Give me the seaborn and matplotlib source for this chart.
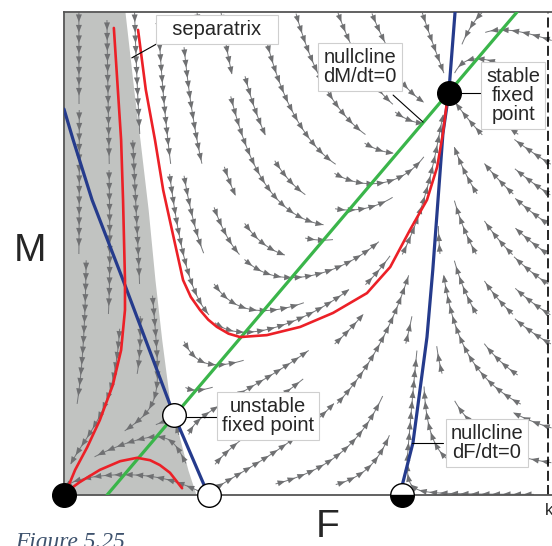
import numpy as np
import matplotlib.pyplot as plt
import seaborn as sns
from matplotlib.collections import LineCollection, PolyCollection

# values (F horizontal, M vertical, K = 10)
fixed_stable_F = [0.0, 7.95]
fixed_stable_M = [0.0, 8.32]
fixed_unstable_F = [3.0, 2.27]
fixed_unstable_M = [0.0, 1.66]
fixed_half_F = [6.98]
fixed_half_M = [0.0]
K = 10.0

# nullcline dM/dt = 0 (straight line)
green_F = [0.89, 9.36]
green_M = [0.0, 10.0]

# nullcline dF/dt = 0, two branches
blue_left_F = [0.0, 0.19, 0.58, 1.22, 2.27, 2.91, 3.0]
blue_left_M = [7.99, 7.35, 6.11, 4.45, 1.66, 0.17, 0.0]
blue_right_F = [6.98, 7.0, 7.21, 7.5, 7.62, 7.83, 7.95, 8.08]
blue_right_M = [0.0, 0.25, 1.08, 3.27, 4.66, 7.49, 8.32, 10.0]

# red trajectories
red1_F = [1.03, 1.18, 1.22, 1.26, 1.26, 1.18, 1.01, 0.74, 0.48, 0.23, 0.04, 0.0]
red1_M = [9.67, 7.35, 6.11, 4.45, 3.83, 3.0, 2.28, 1.55, 0.99, 0.52, 0.06, 0.0]
red2_F = [1.53, 1.69, 1.88, 2.05, 2.23, 2.46, 2.62, 2.81, 2.98, 3.16, 3.40, 3.64,
          4.19, 4.88, 5.56, 6.26, 6.74, 7.15, 7.50, 7.71, 7.83, 7.91, 7.95]
red2_M = [9.63, 8.39, 7.35, 6.31, 5.49, 4.45, 4.10, 3.83, 3.63, 3.48, 3.34, 3.27,
          3.31, 3.48, 3.77, 4.18, 4.72, 5.49, 6.11, 6.79, 7.49, 8.12, 8.32]
red3_F = [0.0, 0.04, 0.33, 0.74, 1.16, 1.51, 1.78, 1.98, 2.19, 2.44]
red3_M = [0.0, 0.06, 0.27, 0.52, 0.70, 0.77, 0.72, 0.62, 0.46, 0.14]

# shaded basin of the OFF state (left of the separatrix)
sep_F = [1.26, 1.45, 1.57, 1.74, 1.88, 2.02, 2.19, 2.27, 2.40, 2.56, 2.73]
sep_M = [10.0, 8.32, 7.35, 5.90, 4.45, 3.21, 1.90, 1.66, 1.14, 0.52, 0.0]

sns.set_style("white")
plt.rcParams['font.family'] = ['Liberation Sans', 'DejaVu Sans']

XMAX, YMAX = 10.083, 10.0
SX, SY = 48.4, 48.3  # pixels per data unit
W, H = XMAX * SX, YMAX * SY

bl_M = np.array(blue_left_M[::-1])
bl_F = np.array(blue_left_F[::-1])
slope = (green_M[1] - green_M[0]) / (green_F[1] - green_F[0])


def velocity(F, M):
    # field built from the nullclines: dF/dt = 0 on blue, dM/dt = 0 on green
    F1 = np.interp(M, bl_M, bl_F)
    F2 = np.interp(M, blue_right_M, blue_right_F)
    G = green_M[0] + slope * (F - green_F[0])
    return 0.1 * F * (F - F1) * (F2 - F), 0.5 * M * (G - M)


def pix_dir(x, y):
    u, v = velocity(x / SX, y / SY)
    u, v = u * SX, v * SY
    s = np.hypot(u, v)
    if s < 1e-9:
        return None
    return u / s, v / s


# streamslice-like tracing in pixel space
CELL, STEP, LMAX = 30.0, 2.0, 130.0
nx, ny = int(np.ceil(W / CELL)), int(np.ceil(H / CELL))
occ = np.zeros((nx, ny), bool)


def trace(x, y, sign, own):
    pts = []
    for _ in range(int(LMAX / STEP)):
        d = pix_dir(x, y)
        if d is None:
            break
        d2 = pix_dir(x + sign * d[0] * STEP / 2, y + sign * d[1] * STEP / 2)
        if d2 is None:
            break
        x, y = x + sign * d2[0] * STEP, y + sign * d2[1] * STEP
        if not (0 <= x < W and 0 <= y < H):
            break
        cell = (int(x // CELL), int(y // CELL))
        if occ[cell] and cell not in own:
            break
        own.add(cell)
        pts.append((x, y))
    return pts


lines, heads = [], []
for j in range(ny):
    for i in range(nx):
        if occ[i, j]:
            continue
        x0, y0 = (i + 0.5) * CELL, (j + 0.5) * CELL
        if x0 >= W or y0 >= H:
            continue
        own = {(i, j)}
        fwd = trace(x0, y0, 1, own)
        bwd = trace(x0, y0, -1, own)
        for c in own:
            occ[c] = True
        px = np.array(bwd[::-1] + [(x0, y0)] + fwd)
        if len(px) < 2:
            continue
        d = np.hypot(*np.diff(px, axis=0).T)
        cum = np.concatenate([[0], np.cumsum(d)])
        if cum[-1] < 22:
            continue
        lines.append(px / [SX, SY])
        for s in np.arange(6, cum[-1] - 2, 10.5):
            k = int(np.clip(np.searchsorted(cum, s) - 1, 0, len(d) - 1))
            if d[k] == 0:
                continue
            u = (px[k + 1] - px[k]) / d[k]
            n = np.array([-u[1], u[0]])
            c = px[k] + u * (s - cum[k])
            tri = np.array([c + u * 4.2, c - u * 3.6 + n * 3.0, c - u * 3.6 - n * 3.0])
            heads.append(tri / [SX, SY])

fig = plt.figure(figsize=(5.52, 5.46), dpi=100)
ax = fig.add_axes([64 / 552, 51 / 546, 488 / 552, 483 / 546])
ax.set_xlim(0, XMAX)
ax.set_ylim(0, YMAX)

ax.fill_betweenx(sep_M, 0, sep_F, color='#c1c3c1', lw=0, zorder=0)
ax.add_collection(LineCollection(lines, colors='#75777a', linewidths=0.7, zorder=1))
ax.add_collection(PolyCollection(heads, facecolors='#6f7072', edgecolors='none', zorder=1))

sns.lineplot(x=green_F, y=green_M, sort=False, estimator=None, color='#3ab54a', lw=2.3, ax=ax, zorder=3)
sns.lineplot(x=blue_left_F, y=blue_left_M, sort=False, estimator=None, color='#253b8c', lw=2.3, ax=ax, zorder=3)
sns.lineplot(x=blue_right_F, y=blue_right_M, sort=False, estimator=None, color='#253b8c', lw=2.3, ax=ax, zorder=3)
for rf, rm in [(red1_F, red1_M), (red2_F, red2_M), (red3_F, red3_M)]:
    sns.lineplot(x=rf, y=rm, sort=False, estimator=None, color='#ec2027', lw=1.9, ax=ax, zorder=4)

ax.axvline(K, color='black', lw=1.2, ls=(0, (6, 2.5)), zorder=2)

ax.plot(fixed_stable_F, fixed_stable_M, 'o', ms=17, mfc='black', mec='black', clip_on=False, zorder=6)
ax.plot(fixed_unstable_F, fixed_unstable_M, 'o', ms=17, mfc='white', mec='black', mew=1, clip_on=False, zorder=6)
ax.plot(fixed_half_F, fixed_half_M, 'o', ms=17, fillstyle='bottom', mfc='black', mfcalt='white',
        mec='black', mew=1, clip_on=False, zorder=6)

box = dict(boxstyle='square,pad=0.25', fc='white', ec='#cfcfcf', lw=0.8)
labels = [
    ("  separatrix  ", 3.16, 9.63, (2.13, 9.46), (1.40, 9.05)),
    ("nullcline\ndM/dt=0", 6.12, 8.86, (6.80, 8.28), (7.42, 7.72)),
    ("stable\nfixed\npoint", 9.28, 8.28, (8.64, 8.32), (8.18, 8.32)),
    ("unstable\nfixed point", 4.21, 1.64, (3.18, 1.61), (2.52, 1.61)),
    ("nullcline\ndF/dt=0", 8.74, 1.08, (7.83, 1.08), (7.19, 1.08)),
]
for txt, x, y, p0, p1 in labels:
    ax.plot([p0[0], p1[0]], [p0[1], p1[1]], color='black', lw=0.8, zorder=5)
    ax.text(x, y, txt, ha='center', va='center', fontsize=14.5, linespacing=1.0,
            bbox=box, zorder=7)

ax.set_xticks([])
ax.set_yticks([])
for side in ['left', 'top', 'bottom']:
    ax.spines[side].set_color('#555555')
    ax.spines[side].set_linewidth(1.3)
ax.spines['right'].set_visible(False)

fig.text(30 / 552, 1 - 251 / 546, 'M', fontsize=28, ha='center', va='center')
fig.text(328 / 552, 1 - 527 / 546, 'F', fontsize=28, ha='center', va='center')
fig.text(545 / 552, 1 - 503 / 546, 'k', fontsize=12, ha='left', va='top')
fig.text(15 / 552, -2 / 546, 'Figure 5.25', fontsize=16.8, ha='left', va='baseline',
         family='Liberation Serif', style='italic', color='#3f536e')

fig.savefig('out.png', dpi=100)
